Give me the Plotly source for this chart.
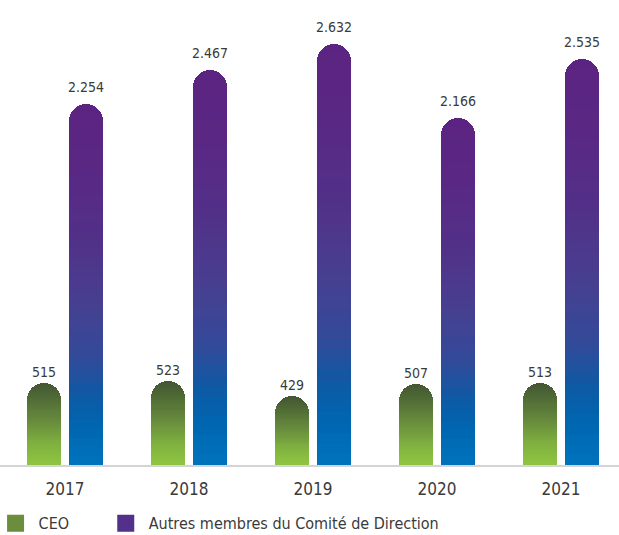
import plotly.graph_objects as go

years = ["2017", "2018", "2019", "2020", "2021"]
ceo = [515, 523, 429, 507, 513]
autres = [2254, 2467, 2632, 2166, 2535]
series_names = ["CEO", "Autres membres du Comité de Direction"]

# gradient stops: fraction from bottom (0) to top (1)
green_stops = [(0.0, "#8fc640"), (0.25, "#80b140"), (0.55, "#66893c"), (0.8, "#516c36"), (1.0, "#435632")]
purple_stops = [(0.0, "#0073bc"), (0.10, "#0067b1"), (0.18, "#0a5ba6"), (0.30, "#334a9a"),
                (0.45, "#473f8f"), (0.65, "#532f88"), (0.85, "#5a2783"), (1.0, "#5c2482")]

FONT = "'Liberation Sans Narrow', 'DejaVu Sans Condensed', Lato, sans-serif"
TXT = "#3a3a3a"
N = 40
BAR_W = 0.274
OFFSETS = [-0.306, 0.032]


def hex2rgb(h):
    h = h.lstrip("#")
    return tuple(int(h[i:i + 2], 16) for i in (0, 2, 4))


def interp(stops, f):
    for (f0, c0), (f1, c1) in zip(stops[:-1], stops[1:]):
        if f0 <= f <= f1:
            t = 0 if f1 == f0 else (f - f0) / (f1 - f0)
            a, b = hex2rgb(c0), hex2rgb(c1)
            return "rgb(%d,%d,%d)" % tuple(round(a[i] + (b[i] - a[i]) * t) for i in range(3))
    return stops[-1][1]


fig = go.Figure()
xs = list(range(len(years)))

for vals, stops, off in [(ceo, green_stops, OFFSETS[0]), (autres, purple_stops, OFFSETS[1])]:
    for k in range(N):
        frac = 1 - k / N
        col = interp(stops, 1 - (k + 0.5) / N)
        fig.add_trace(go.Bar(
            x=xs, y=[v * frac for v in vals], width=BAR_W, offset=off,
            marker=dict(color=col, line=dict(width=0), cornerradius="50%"),
            showlegend=False, hoverinfo="skip"))

# legend entries (each in its own legend box)
for name, col, lg in zip(series_names, ["#6a8d3e", "#53308a"], ["legend", "legend2"]):
    fig.add_trace(go.Bar(x=[None], y=[None], name=name, legend=lg,
                         marker=dict(color=col, line=dict(color=col, width=5))))


def fmt(v):
    return f"{v:,}".replace(",", ".")


for vals, off, ys in [(ceo, OFFSETS[0], 11), (autres, OFFSETS[1], 17)]:
    for i, v in enumerate(vals):
        fig.add_annotation(x=i + off + BAR_W / 2, y=v, yshift=ys, text=fmt(v),
                           showarrow=False, yanchor="middle",
                           font=dict(family=FONT, size=14, color=TXT))

leg_common = dict(orientation="h", xanchor="left", yref="container",
                  y=0.022, yanchor="middle", itemwidth=36,
                  font=dict(family=FONT, size=16, color=TXT), itemclick=False)

fig.update_layout(
    width=619, height=535,
    margin=dict(l=0, r=0, t=0, b=70, autoexpand=False),
    barmode="overlay",
    bargap=0,
    plot_bgcolor="white", paper_bgcolor="white",
    font=dict(family=FONT, color=TXT),
    xaxis=dict(range=[-0.524, 4.468], tickvals=xs, ticktext=years,
               showgrid=False, zeroline=False, showline=True,
               linecolor="#d4d4d4", linewidth=2, ticks="", automargin=False,
               ticklabelstandoff=8, tickfont=dict(family=FONT, size=17, color=TXT)),
    yaxis=dict(range=[0, 2906], visible=False, showgrid=False, zeroline=False),
    showlegend=True,
    legend=dict(x=-0.012, **leg_common),
    legend2=dict(x=0.166, **leg_common),
)

fig.write_html("out.html")
